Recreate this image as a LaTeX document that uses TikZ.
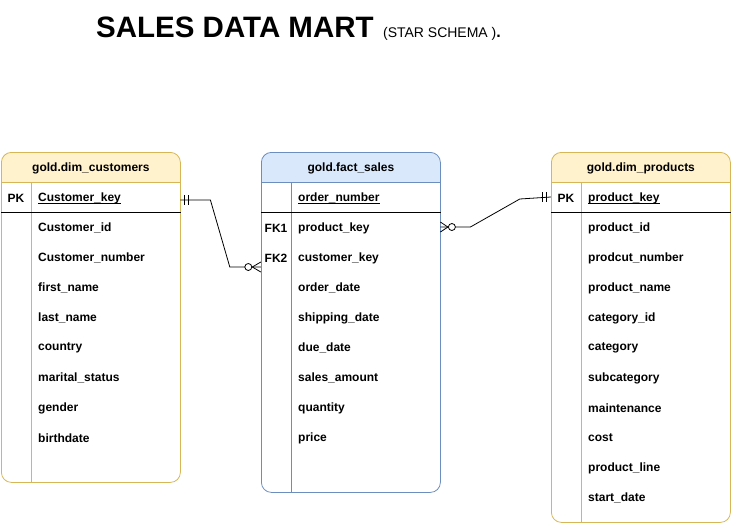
\documentclass[tikz,border=0pt]{standalone}
\usepackage{fontspec}
\setmainfont{Liberation Sans}
\usetikzlibrary{calc}

\definecolor{ylwfill}{HTML}{FFF2CC}
\definecolor{ylwline}{HTML}{D6B656}
\definecolor{bluefill}{HTML}{DAE8FC}
\definecolor{blueline}{HTML}{6C8EBF}

\newcommand{\ukey}[1]{\setbox0\hbox{#1}\rlap{\rule[-2.5pt]{\wd0}{0.7pt}}\box0}

\tikzset{
  dimtab/.style={draw=ylwline, line width=0.8pt, rounded corners=10pt, anchor=north west,
    minimum width=179pt, minimum height=#1, inner sep=0pt,
    path picture={\fill[ylwfill, sharp corners] (path picture bounding box.north west) rectangle ([yshift=-30pt]path picture bounding box.north east);}},
  facttab/.style={draw=blueline, line width=0.8pt, rounded corners=10pt, anchor=north west,
    minimum width=179pt, minimum height=#1, inner sep=0pt,
    path picture={\fill[bluefill, sharp corners] (path picture bounding box.north west) rectangle ([yshift=-30pt]path picture bounding box.north east);}},
  headtxt/.style={font=\fontsize{12}{14}\selectfont\bfseries, inner sep=0pt},
  keytxt/.style={font=\fontsize{12}{14}\selectfont\bfseries, minimum width=30pt, minimum height=30pt, inner sep=0pt},
  field/.style={font=\fontsize{12}{14}\selectfont\bfseries, anchor=west, text width=135pt,
    inner xsep=7pt, inner ysep=0pt, minimum height=30pt, align=left},
  conn/.style={line width=0.8pt, black},
}

\begin{document}
\begin{tikzpicture}[x=1pt, y=-1pt]
\useasboundingbox (0,0) rectangle (731,523);

\node[anchor=base west, inner sep=0pt] (title) at (96,37) {\fontsize{29.5}{34}\selectfont\bfseries SALES DATA MART};
\node[anchor=base west, inner sep=0pt] (subtitle) at ([xshift=9pt]title.base east) {\fontsize{14}{16}\selectfont (STAR SCHEMA )\fontsize{16}{16}\selectfont\bfseries.};

% gold.dim_customers
\node[dimtab=330pt] (cust) at (1,152) {};
\node[headtxt] (custhead) at ([yshift=-16pt]cust.north) {gold.dim\_customers};
\draw[ylwline, line width=0.8pt] ([yshift=-30pt]cust.north west) -- ([yshift=-30pt]cust.north east);
\draw[ylwline, line width=0.8pt] ([shift={(30pt,-30pt)}]cust.north west) -- ([xshift=30pt]cust.south west);
\draw[line width=0.8pt] ([yshift=-60pt]cust.north west) -- ([yshift=-60pt]cust.north east);
\node[keytxt] (custpk) at (16,198) {PK};
\node[field] (custkey) at (31,198) {\ukey{Customer\_key}};
\node[field] (custid) at (31,228) {Customer\_id};
\node[field] (custnum) at (31,258) {Customer\_number};
\node[field] (custfirst) at (31,288) {first\_name};
\node[field] (custlast) at (31,318) {last\_name};
\node[field] (custcountry) at (31,348) {country};
\node[field] (custmarital) at (31,378) {marital\_status};
\node[field] (custgender) at (31,408) {gender};
\node[field] (custbirth) at (31,438) {birthdate};

% gold.fact_sales
\node[facttab=340pt] (fact) at (261,152) {};
\node[headtxt] (facthead) at ([yshift=-16pt]fact.north) {gold.fact\_sales};
\draw[blueline, line width=0.8pt] ([yshift=-30pt]fact.north west) -- ([yshift=-30pt]fact.north east);
\draw[blueline, line width=0.8pt] ([shift={(30pt,-30pt)}]fact.north west) -- ([xshift=30pt]fact.south west);
\draw[line width=0.8pt] ([yshift=-60pt]fact.north west) -- ([yshift=-60pt]fact.north east);
\node[field] (factorder) at (291,198) {\ukey{order\_number}};
\node[keytxt] (fk1) at (276,228) {FK1};
\node[field] (factprod) at (291,228) {product\_key};
\node[keytxt] (fk2) at (276,258) {FK2};
\node[field] (factcust) at (291,258) {customer\_key};
\node[field] (factdate) at (291,288) {order\_date};
\node[field] (factship) at (291,318) {shipping\_date};
\node[field] (factdue) at (291,348) {due\_date};
\node[field] (factamount) at (291,378) {sales\_amount};
\node[field] (factqty) at (291,408) {quantity};
\node[field] (factprice) at (291,438) {price};

% gold.dim_products
\node[dimtab=370pt] (prod) at (551,152) {};
\node[headtxt] (prodhead) at ([yshift=-16pt]prod.north) {gold.dim\_products};
\draw[ylwline, line width=0.8pt] ([yshift=-30pt]prod.north west) -- ([yshift=-30pt]prod.north east);
\draw[ylwline, line width=0.8pt] ([shift={(30pt,-30pt)}]prod.north west) -- ([xshift=30pt]prod.south west);
\draw[line width=0.8pt] ([yshift=-60pt]prod.north west) -- ([yshift=-60pt]prod.north east);
\node[keytxt] (prodpk) at (566,198) {PK};
\node[field] (prodkey) at (581,198) {\ukey{product\_key}};
\node[field] (prodid) at (581,228) {product\_id};
\node[field] (prodnum) at (581,258) {prodcut\_number};
\node[field] (prodname) at (581,288) {product\_name};
\node[field] (prodcatid) at (581,318) {category\_id};
\node[field] (prodcat) at (581,348) {category};
\node[field] (prodsub) at (581,378) {subcategory};
\node[field] (prodmaint) at (581,408) {maintenance};
\node[field] (prodcost) at (581,438) {cost};
\node[field] (prodline) at (581,468) {product\_line};
\node[field] (prodstart) at (581,498) {start\_date};

% customers -> fact_sales
\coordinate (c1) at ([yshift=-2pt]custkey.east);
\coordinate (c2) at ([yshift=-9pt]fk2.west);
\draw[conn] (c1) -- ++(30,0) -- ($(c2)+(-31,0)$) -- (c2);
\draw[conn] ([xshift=4pt]c1) ++(0,-5) -- ++(0,10);
\draw[conn] ([xshift=8pt]c1) ++(0,-5) -- ++(0,10);
\draw[conn] ([xshift=-8.5pt]c2) -- ([yshift=5pt]c2);
\draw[conn] ([xshift=-8.5pt]c2) -- ([yshift=-5pt]c2);
\draw[conn, fill=white] ([xshift=-12.5pt]c2) circle (3.5pt);

% fact_sales -> products
\draw[conn] ([yshift=1pt]factprod.east) -- ++(30,0) -- ($(prodpk.west)+(-31,1)$) -- ([yshift=1pt]prodpk.west);
\draw[conn] ([shift={(-4pt,1pt)}]prodpk.west) ++(0,-5) -- ++(0,10);
\draw[conn] ([shift={(-8pt,1pt)}]prodpk.west) ++(0,-5) -- ++(0,10);
\draw[conn] ([shift={(7.5pt,1pt)}]factprod.east) -- ([yshift=6pt]factprod.east);
\draw[conn] ([shift={(7.5pt,1pt)}]factprod.east) -- ([yshift=-4pt]factprod.east);
\draw[conn, fill=white] ([shift={(11.5pt,1pt)}]factprod.east) circle (3.5pt);
\end{tikzpicture}
\end{document}
